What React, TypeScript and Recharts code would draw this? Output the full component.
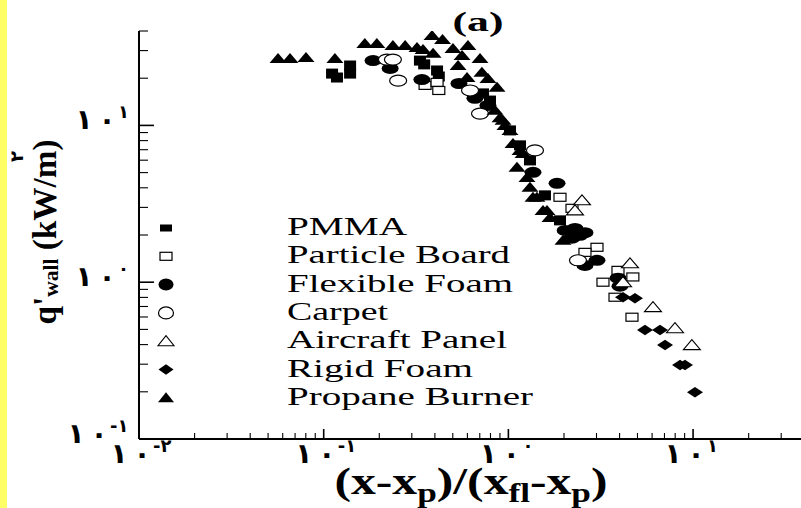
import React from 'react';
import { ScatterChart, Scatter, XAxis, YAxis, Legend } from 'recharts';

type Pt = [number, number];

// ---- data (x = (x-xp)/(xfl-xp), y = q'' wall kW/m2) ----
const pmmaPoints: Pt[] = [
  [0.111, 21.4], [0.118, 20.2], [0.139, 24.1], [0.139, 21.4], [0.332, 25.9], [0.35, 24.5],
  [0.411, 22.4], [0.42, 20.5], [0.729, 16.0], [0.795, 14.4], [1.02, 9.29], [1.156, 7.46],
  [1.309, 5.98], [1.578, 3.58], [1.903, 2.48],
];
const particleBoardPoints: Pt[] = [
  [0.354, 18.0], [0.411, 18.8], [0.42, 16.7], [1.903, 3.48], [2.21, 2.96], [3.018, 1.67],
  [2.598, 1.55], [3.921, 1.19], [4.72, 1.08], [3.252, 1.0], [3.778, 0.802], [4.669, 0.598],
];
const flexibleFoamPoints: Pt[] = [
  [0.185, 25.9], [0.229, 23.1], [0.34, 19.6], [0.54, 18.5], [0.659, 14.9], [0.775, 13.4],
  [1.359, 5.02], [1.834, 4.27], [2.03, 2.14], [2.294, 2.2], [2.598, 2.07], [2.21, 1.91],
  [2.44, 1.99], [3.018, 1.38], [2.598, 1.28], [3.921, 1.06], [4.02, 0.943],
];
const carpetPoints: Pt[] = [
  [0.22, 26.3], [0.237, 26.3], [0.253, 19.3], [0.62, 16.7], [0.702, 11.9], [1.393, 6.93], [2.381, 1.38],
];
const aircraftPanelPoints: Pt[] = [
  [2.503, 3.33], [2.294, 2.87], [4.554, 1.32], [4.174, 1.0], [6.066, 0.693], [7.98, 0.509], [9.85, 0.397],
];
const rigidFoamPoints: Pt[] = [
  [4.174, 0.802], [4.846, 0.791], [5.49, 0.495], [6.62, 0.495], [7.05, 0.397], [8.5, 0.296],
  [9.04, 0.296], [10.24, 0.199],
];
const propaneBurnerPoints: Pt[] = [
  [0.0566, 26.7], [0.0657, 26.7], [0.0802, 27.1], [0.115, 26.7], [0.167, 33.3], [0.194, 33.3],
  [0.237, 32.3], [0.276, 32.3], [0.32, 31.4], [0.345, 30.5], [0.386, 37.4], [0.44, 35.3],
  [0.391, 28.8], [0.501, 30.9], [0.561, 27.9], [0.604, 32.3], [0.702, 26.7], [0.534, 24.1],
  [0.719, 21.8], [0.775, 19.9], [0.868, 17.5], [0.597, 20.2], [0.846, 12.5], [0.901, 11.2],
  [0.935, 10.8], [0.958, 10.0], [1.02, 9.29], [1.059, 7.68], [1.156, 6.93], [1.2, 6.63],
  [1.113, 5.4], [1.261, 4.66], [1.309, 4.03], [1.359, 3.48], [1.428, 3.48], [1.54, 2.87],
  [1.618, 2.87], [1.68, 2.59], [1.975, 1.85],
];

const seriesNames = ['PMMA', 'Particle Board', 'Flexible Foam', 'Carpet', 'Aircraft Panel', 'Rigid Foam', 'Propane Burner'];

const xMajorTicks = [0.01, 0.1, 1, 10];
const xMinorTicks = [
  0.02, 0.03, 0.04, 0.05, 0.06, 0.07, 0.08, 0.09,
  0.2, 0.3, 0.4, 0.5, 0.6, 0.7, 0.8, 0.9,
  2, 3, 4, 5, 6, 7, 8, 9, 20, 30,
];
const yMajorTicks = [0.1, 1, 10];
const yMinorTicks = [
  0.2, 0.3, 0.4, 0.5, 0.6, 0.7, 0.8, 0.9,
  2, 3, 4, 5, 6, 7, 8, 9, 20, 30, 40,
];
const tickBaseDigits = ['۱', '۰'];
const xTickExponents = ['-۲', '-۱', '۰', '۱'];
const yTickExponents = ['-۱', '۰', '۱'];

// ---- styles ----
const SERIF = "'Liberation Serif', 'Times New Roman', Times, serif";
const ARABIC = "'DejaVu Sans', sans-serif";
const legendTextW = [120, 223, 226, 101, 220, 186, 246];

type Kind = 'square' | 'squareOpen' | 'circle' | 'circleOpen' | 'triangleOpen' | 'diamond' | 'triangle';
const kinds: Kind[] = ['square', 'squareOpen', 'circle', 'circleOpen', 'triangleOpen', 'diamond', 'triangle'];

const allPoints = [pmmaPoints, particleBoardPoints, flexibleFoamPoints, carpetPoints, aircraftPanelPoints, rigidFoamPoints, propaneBurnerPoints];

const series = seriesNames.map((name, i) => ({
  name,
  kind: kinds[i],
  data: allPoints[i].map(([x, y]) => ({ x, y })),
}));

type Size = { sq: [number, number]; sqo: [number, number]; el: [number, number]; tri: [number, number]; dia: [number, number] };
const dataSize: Size = { sq: [12, 10], sqo: [12, 8], el: [8.5, 5.5], tri: [17, 10], dia: [16, 10.5] };
const legendSize: Size = { sq: [12, 7], sqo: [12, 8], el: [7.5, 6], tri: [16, 10], dia: [15, 10.5] };

function Marker({ kind, cx, cy, s }: { kind: Kind; cx: number; cy: number; s: Size }) {
  if (cx == null || cy == null) return null;
  const stroke = '#000';
  switch (kind) {
    case 'square':
      return <rect x={cx - s.sq[0] / 2} y={cy - s.sq[1] / 2} width={s.sq[0]} height={s.sq[1]} fill="#000" />;
    case 'squareOpen':
      return <rect x={cx - s.sqo[0] / 2} y={cy - s.sqo[1] / 2} width={s.sqo[0]} height={s.sqo[1]} fill="#fff" stroke={stroke} strokeWidth={1.2} />;
    case 'circle':
      return <ellipse cx={cx} cy={cy} rx={s.el[0]} ry={s.el[1]} fill="#000" />;
    case 'circleOpen':
      return <ellipse cx={cx} cy={cy} rx={s.el[0]} ry={s.el[1]} fill="#fff" stroke={stroke} strokeWidth={1.2} />;
    case 'triangleOpen': {
      const [w, h] = s.tri;
      return <polygon points={`${cx - w / 2},${cy + h * 0.45} ${cx + w / 2},${cy + h * 0.45} ${cx},${cy - h * 0.55}`} fill="#fff" stroke={stroke} strokeWidth={1.1} />;
    }
    case 'triangle': {
      const [w, h] = s.tri;
      return <polygon points={`${cx - w / 2},${cy + h * 0.45} ${cx + w / 2},${cy + h * 0.45} ${cx},${cy - h * 0.55}`} fill="#000" />;
    }
    case 'diamond': {
      const [w, h] = s.dia;
      return <polygon points={`${cx - w / 2},${cy} ${cx},${cy - h / 2} ${cx + w / 2},${cy} ${cx},${cy + h / 2}`} fill="#000" />;
    }
  }
  return null;
}

const near = (a: number, b: number) => Math.abs(a - b) < 1e-9 * Math.max(1, Math.abs(b));

// zc = centre of the "۰" glyph, base = baseline of the main digits
const PowLabel = ({ zc, base, exp }: { zc: number; base: number; exp: string }) => (
  <g fontFamily={ARABIC} fontWeight="bold" fill="#000">
    <text>
      <tspan x={zc - 23} y={base} fontSize={28} textAnchor="middle">{tickBaseDigits[0]}</tspan>
      <tspan x={zc} y={base} fontSize={28} textAnchor="middle">{tickBaseDigits[1]}</tspan>
    </text>
    <text x={zc + 11} y={base - 11} fontSize={18} textAnchor="start">{exp}</text>
  </g>
);

const XTick = (props: any) => {
  const { x, y, payload } = props;
  const v = payload.value;
  const i = xMajorTicks.findIndex((t) => near(t, v));
  const major = i >= 0;
  return (
    <g>
      <line x1={x} x2={x} y1={y} y2={y - (major ? 10 : 6)} stroke="#000" strokeWidth={major ? 1.6 : 1.1} />
      {major && <PowLabel zc={x + 3} base={y + 24} exp={xTickExponents[i]} />}
    </g>
  );
};

const YTick = (props: any) => {
  const { x, y, payload } = props;
  const v = payload.value;
  const i = yMajorTicks.findIndex((t) => near(t, v));
  const major = i >= 0;
  const exp = yTickExponents[i] || '';
  const zc = Array.from(exp).length > 1 ? x - 40 : x - 32;
  return (
    <g>
      <line x1={x} x2={x + (major ? 15 : 9)} y1={y} y2={y} stroke="#000" strokeWidth={major ? 1.6 : 1.1} />
      {major && <PowLabel zc={zc} base={y + 4} exp={exp} />}
    </g>
  );
};

const LegendContent = () => (
  <svg width={420} height={210} style={{ overflow: 'visible', display: 'block' }}>
    {series.map((s, i) => {
      const by = 25 + i * 28.3;
      return (
        <g key={s.name}>
          <Marker kind={s.kind} cx={26} cy={by - 7} s={legendSize} />
          <text x={147} y={by} fontFamily={SERIF} fontSize={25} fill="#000"
            textLength={legendTextW[i]} lengthAdjust="spacingAndGlyphs">{s.name}</text>
        </g>
      );
    })}
  </svg>
);

export default function App() {
  return (
    <div style={{ position: 'absolute', left: 0, top: 0, width: 801, height: 508, background: '#fff', overflow: 'hidden' }}>
      <div style={{ position: 'absolute', left: 0, top: 0, width: 7, height: 508, background: '#FFFF66' }} />
      <ScatterChart width={801} height={508} margin={{ top: 31, right: 0, bottom: 0, left: 0 }}>
        <XAxis
          dataKey="x" type="number" scale="log" domain={[0.01, 38.4]} allowDataOverflow
          ticks={[...xMajorTicks, ...xMinorTicks].sort((a, b) => a - b)} interval={0}
          tickSize={0} tickMargin={0} tickLine={false} height={69}
          axisLine={{ stroke: '#000', strokeWidth: 2 }} tick={<XTick />}
        />
        <YAxis
          dataKey="y" type="number" scale="log" domain={[0.1, 40]} allowDataOverflow
          ticks={[...yMajorTicks, ...yMinorTicks].sort((a, b) => a - b)} interval={0}
          tickSize={0} tickMargin={0} tickLine={false} width={139}
          axisLine={{ stroke: '#000', strokeWidth: 2 }} tick={<YTick />}
        />
        {series.map((s) => (
          <Scatter key={s.name} name={s.name} data={s.data} fill="#000" isAnimationActive={false}
            shape={(p: any) => <Marker kind={s.kind} cx={p.cx} cy={p.cy} s={dataSize} />} />
        ))}
        <Legend layout="vertical" align="center" verticalAlign="middle"
          wrapperStyle={{ left: 140, top: 210, width: 420, height: 210 }}
          content={<LegendContent />} />
        <text x={478} y={31} textAnchor="middle" fontFamily={SERIF} fontSize={28} fontWeight="bold" fill="#000"
          textLength={51} lengthAdjust="spacingAndGlyphs">(a)</text>
        <text x={471} y={494} textAnchor="middle" fontFamily={SERIF} fontWeight="bold" fontSize={38} fill="#000"
          textLength={273} lengthAdjust="spacingAndGlyphs">
          (x-x<tspan fontSize={27} dy={8}>p</tspan><tspan dy={-8}>)/(x</tspan><tspan fontSize={27} dy={8}>fl</tspan><tspan dy={-8}>-x</tspan><tspan fontSize={27} dy={8}>p</tspan><tspan dy={-8}>)</tspan>
        </text>
        <text transform="translate(56,232) rotate(-90)" textAnchor="middle" fontFamily={SERIF} fontWeight="bold" fontSize={34} fill="#000"
          textLength={185} lengthAdjust="spacingAndGlyphs">
          q'<tspan fontSize={22} dy={2}>wall</tspan><tspan dy={-2}> (kW/m)</tspan>
        </text>
        <text transform="translate(23,162) rotate(-90)" fontFamily={ARABIC} fontSize={18} fontWeight="bold" fill="#000">۲</text>
      </ScatterChart>
    </div>
  );
}
